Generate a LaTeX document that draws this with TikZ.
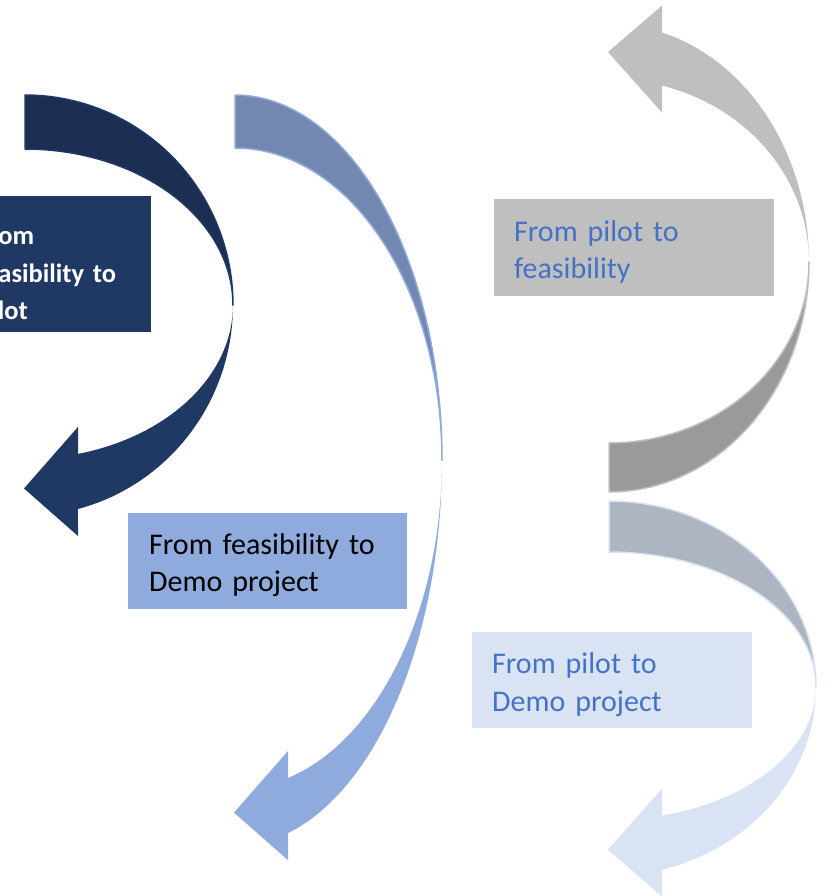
\documentclass[tikz,border=0pt]{standalone}
\usepackage{fontspec}
\setmainfont{Carlito}
\usepackage{tikz}
\definecolor{navyback}{HTML}{1C2E52}
\definecolor{navy}{HTML}{203864}
\definecolor{blueback}{HTML}{7388B0}
\definecolor{midblue}{HTML}{8FAADC}
\definecolor{greyback}{HTML}{9A9A9A}
\definecolor{greyfront}{HTML}{BFBFBF}
\definecolor{paleback}{HTML}{ADB5C3}
\definecolor{pale}{HTML}{DAE3F3}
\definecolor{textblue}{HTML}{4472C4}
\tikzset{
  tagbox/.style={anchor=north west, inner ysep=0pt, align=left, font=\fontsize{30}{37.5}\selectfont},
  backface/.style={line width=1.5pt, line join=round}
}
% curved u-turn arrow: #1 x of tail, #2 y of turn, #3 x radius,
% #4/#5 outer/inner radius of tail half, #6/#7 outer/inner radius of head half,
% #8 back colour, #9 front colour
\newcommand{\uturn}[9]{%
  \pgfmathsetmacro{\hang}{acos(53/#3)}
  \pgfmathsetmacro{\hin}{#2+#7*sin(\hang)}
  \pgfmathsetmacro{\hout}{#2+#6*sin(\hang)}
  \fill[#9] plot[domain=0:\hang, samples=40] ({#1+#3*cos(\x)},{#2+#6*sin(\x)})
    -- ({#1+53},{\hout+27}) -- ({#1-1},{(\hin+\hout)/2+7}) -- ({#1+53},{\hin-27})
    -- ({#1+53},{\hin}) -- plot[domain=\hang:0, samples=40] ({#1+#3*cos(\x)},{#2+#7*sin(\x)}) -- cycle;
  \filldraw[backface, fill=#8, draw=#9] plot[domain=0:-90, samples=40] ({#1+#3*cos(\x)},{#2+#4*sin(\x)})
    -- plot[domain=-90:0, samples=40] ({#1+#3*cos(\x)},{#2+#5*sin(\x)}) -- cycle;
}
\newcommand{\tallline}{\rule{0pt}{29pt}}

\begin{document}
\begin{tikzpicture}[x=1pt, y=-1pt]
  \useasboundingbox (0,0) rectangle (830,896);
  \clip (0,0) rectangle (830,896);

  % arrows
  \uturn{25}{305}{208}{210}{156}{211}{154}{navyback}{navy}
  \uturn{235}{460}{207}{365}{312}{386}{329}{blueback}{midblue}
  \begin{scope}[shift={(0,262)}, yscale=-1]
    \uturn{609}{0}{200}{230}{181}{238}{183}{greyback}{greyfront}
  \end{scope}
  \uturn{609}{687}{207}{186}{135}{189}{133}{paleback}{pale}

  % labels
  \node[tagbox, fill=navy, text=white, font=\bfseries\fontsize{26.5}{37.5}\selectfont,
    minimum width=191pt, minimum height=136pt, inner xsep=17pt, text width=157pt]
    (feaspilot) at (-40,196) {\rule{0pt}{40pt}From\\feasibility to\\pilot};
  \node[tagbox, fill=midblue, text=black, minimum width=279pt, minimum height=96pt,
    inner xsep=21pt, text width=237pt] (feasdemo) at (128,513) {\tallline From feasibility to\\Demo project};
  \node[tagbox, fill=greyfront, text=textblue, minimum width=280pt, minimum height=97pt,
    inner xsep=20pt, text width=240pt] (pilotfeas) at (494,199) {\tallline From pilot to\\feasibility};
  \node[tagbox, fill=pale, text=textblue, minimum width=280pt, minimum height=96pt,
    inner xsep=20pt, text width=240pt] (pilotdemo) at (472,632) {\rule{0pt}{30pt}From pilot to\\Demo project};
\end{tikzpicture}
\end{document}
